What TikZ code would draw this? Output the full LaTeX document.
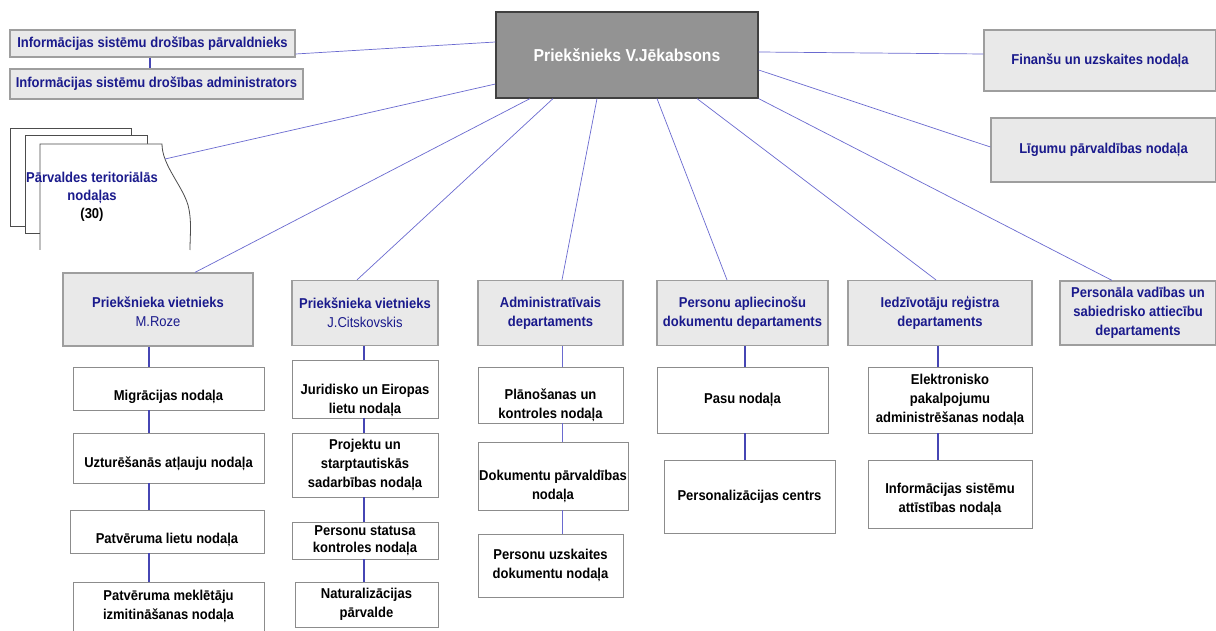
\documentclass[tikz,border=0pt]{standalone}
\usepackage{fontspec}
\setmainfont[FakeStretch=0.91]{Liberation Sans}
\usepackage{xcolor}
\definecolor{orgblue}{HTML}{1A1A8C}
\definecolor{linkblue}{HTML}{6A6AD0}
\definecolor{chainblue}{HTML}{4646B4}
\definecolor{headfill}{HTML}{E9E9E9}
\definecolor{chieffill}{HTML}{939393}
% lowers the text of a box by #1
\newcommand{\pushdown}[1]{\rule{0pt}{\dimexpr11pt+#1*2\relax}}

\begin{document}
\begin{tikzpicture}[x=1pt,y=-1pt,
  every node/.style={inner sep=0pt,align=center,font=\bfseries\fontsize{14.3}{19}\selectfont},
  chief/.style={rectangle,draw=black!75,line width=1.2pt,fill=chieffill,text=white,font=\bfseries\fontsize{17.3}{19}\selectfont},
  head/.style={rectangle,draw=black!38,line width=1.2pt,fill=headfill,text=orgblue},
  unit/.style={rectangle,draw=black!45,line width=0.8pt,fill=white,text=black},
  page/.style={draw=black!70,line width=0.8pt},
  link/.style={draw=linkblue,line width=0.7pt},
  chain/.style={draw=chainblue,line width=1.8pt}]
\useasboundingbox[fill=white] (0,0) rectangle (1216,631);

% top level
\node (chief) at (627,55) [chief,minimum width=262pt,minimum height=86pt] {Priekšnieks V.Jēkabsons};
\node (isp) at (152.5,43.5) [head,minimum width=285pt,minimum height=27pt] {Informācijas sistēmu drošības pārvaldnieks};
\node (isa) at (156.5,84) [head,minimum width=293pt,minimum height=30pt] {Informācijas sistēmu drošības administrators};
\node (fin) at (1100,60.5) [head,minimum width=232pt,minimum height=61pt] {Finanšu un uzskaites nodaļa};
\node (lig) at (1103.5,150) [head,minimum width=225pt,minimum height=64pt] {Līgumu pārvaldības nodaļa};

% territorial offices (stack of pages)
\filldraw[page,fill=white] (10,128) rectangle (131,226);
\filldraw[page,fill=white] (25,135) rectangle (147,233);
\fill[white] (40,144) -- (162,144) .. controls (162,165) and (182,185) .. (188,205) .. controls (192,220) and (190,235) .. (190,250) -- (40,250) -- cycle;
\draw[page] (40,250) -- (40,144) -- (162,144) .. controls (162,165) and (182,185) .. (188,205) .. controls (192,220) and (190,235) .. (190,250);
\coordinate (terredge) at (165,159);
\node (terr) at (92,197) [text=orgblue,font=\bfseries\fontsize{14.3}{18}\selectfont] {Pārvaldes teritoriālās\\nodaļas\\\textcolor{black}{(30)}};

% departments
\node (dep1) at (158,309.5) [head,minimum width=190pt,minimum height=73pt] {\pushdown{2pt}Priekšnieka vietnieks\\{\mdseries M.Roze}};
\node (dep2) at (365,313) [head,minimum width=146pt,minimum height=65pt] {Priekšnieka vietnieks\\{\mdseries J.Citskovskis}};
\node (dep3) at (550.5,313) [head,minimum width=145pt,minimum height=65pt] {Administratīvais\\departaments};
\node (dep4) at (742.5,313) [head,minimum width=171pt,minimum height=65pt] {Personu apliecinošu\\dokumentu departaments};
\node (dep5) at (940,313) [head,minimum width=184pt,minimum height=65pt] {Iedzīvotāju reģistra\\departaments};
\node (dep6) at (1138,313) [head,minimum width=156pt,minimum height=64pt] {Personāla vadības un\\sabiedrisko attiecību\\departaments};

% units
\node (mig) at (168.5,388.5) [unit,minimum width=191pt,minimum height=43pt] {\pushdown{8pt}Migrācijas nodaļa};
\node (uzt) at (168.5,458) [unit,minimum width=191pt,minimum height=50pt] {\pushdown{6pt}Uzturēšanās atļauju nodaļa};
\node (pat) at (167,531.5) [unit,minimum width=194pt,minimum height=43pt] {\pushdown{8pt}Patvēruma lietu nodaļa};
\node (mek) at (168.5,606.5) [unit,minimum width=191pt,minimum height=49pt] {Patvēruma meklētāju\\izmitināšanas nodaļa};

\node (jur) at (365,389) [unit,minimum width=146pt,minimum height=58pt] {\pushdown{11pt}Juridisko un Eiropas\\lietu nodaļa};
\node (pro) at (365,465) [unit,minimum width=146pt,minimum height=64pt] {Projektu un\\starptautiskās\\sadarbības nodaļa};
\node (sta) at (365,540.5) [unit,minimum width=146pt,minimum height=37pt,font=\bfseries\fontsize{14.3}{17}\selectfont] {Personu statusa\\kontroles nodaļa};
\node (nat) at (366.5,604.5) [unit,minimum width=143pt,minimum height=45pt] {Naturalizācijas\\pārvalde};

\node (pla) at (550.5,395) [unit,minimum width=145pt,minimum height=56pt] {\pushdown{10pt}Plānošanas un\\kontroles nodaļa};
\node (dok) at (553,476) [unit,minimum width=150pt,minimum height=68pt] {\pushdown{10pt}Dokumentu pārvaldības\\nodaļa};
\node (per) at (550.5,565.5) [unit,minimum width=145pt,minimum height=63pt] {Personu uzskaites\\dokumentu nodaļa};

\node (pas) at (742.5,400) [unit,minimum width=171pt,minimum height=66pt] {Pasu nodaļa};
\node (pcz) at (749.5,496.5) [unit,minimum width=171pt,minimum height=73pt] {Personalizācijas centrs};

\node (ele) at (950,400) [unit,minimum width=164pt,minimum height=66pt] {Elektronisko\\pakalpojumu\\administrēšanas nodaļa};
\node (ist) at (950,494) [unit,minimum width=164pt,minimum height=68pt] {\pushdown{5pt}Informācijas sistēmu\\attīstības nodaļa};

% lines from the chief
\draw[link] ([yshift=13pt]chief.west) -- ([yshift=-10.5pt]isp.east);
\draw[link] ([yshift=-29pt]chief.west) -- (terredge);
\draw[link] ([yshift=3pt]chief.east) -- ([yshift=6.5pt]fin.west);
\draw[link] ([yshift=-15pt]chief.east) -- ([yshift=3pt]lig.west);
\draw[link] ([xshift=-97pt]chief.south) -- ([xshift=37pt]dep1.north);
\draw[link] ([xshift=-74pt]chief.south) -- ([xshift=-8pt]dep2.north);
\draw[link] ([xshift=-30pt]chief.south) -- ([xshift=11.5pt]dep3.north);
\draw[link] ([xshift=30pt]chief.south) -- ([xshift=-15.5pt]dep4.north);
\draw[link] ([xshift=70pt]chief.south) -- ([xshift=-4pt]dep5.north);
\draw[link] (chief.south east) -- ([xshift=-26pt]dep6.north);

% vertical chains
\coordinate (c0) at (150,0);
\coordinate (c1) at (149,0);
\coordinate (c2) at (364,0);
\coordinate (c3) at (562,0);
\coordinate (c4) at (745,0);
\coordinate (c5) at (938,0);
\draw[chain] (isp.south -| c0) -- (isa.north -| c0);
\draw[chain] (dep1.south -| c1) -- (mig.north -| c1);
\draw[chain] (mig.south -| c1) -- (uzt.north -| c1);
\draw[chain] (uzt.south -| c1) -- (pat.north -| c1);
\draw[chain] (pat.south -| c1) -- (mek.north -| c1);
\draw[chain] (dep2.south -| c2) -- (jur.north -| c2);
\draw[chain] (jur.south -| c2) -- (pro.north -| c2);
\draw[chain] (pro.south -| c2) -- (sta.north -| c2);
\draw[chain] (sta.south -| c2) -- (nat.north -| c2);
\draw[link,line width=0.9pt] (dep3.south -| c3) -- (pla.north -| c3);
\draw[link,line width=0.9pt] (pla.south -| c3) -- (dok.north -| c3);
\draw[link,line width=0.9pt] (dok.south -| c3) -- (per.north -| c3);
\draw[chain] (dep4.south -| c4) -- (pas.north -| c4);
\draw[chain] (pas.south -| c4) -- (pcz.north -| c4);
\draw[chain] (dep5.south -| c5) -- (ele.north -| c5);
\draw[chain] (ele.south -| c5) -- (ist.north -| c5);
\end{tikzpicture}
\end{document}
